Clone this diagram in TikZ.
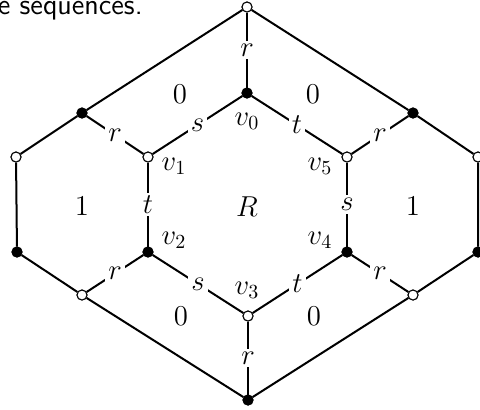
\documentclass[tikz,border=0pt]{standalone}
\begin{document}
\begin{tikzpicture}[x=0.5pt,y=-0.5pt,
  every node/.style={font=\Large},
  wv/.style={circle,draw,fill=white,minimum size=5pt,inner sep=0pt,line width=0.5pt},
  bv/.style={circle,draw,fill=black,minimum size=5pt,inner sep=0pt,line width=0.5pt},
  edg/.style={line width=1pt},
  lbl/.style={fill=white,inner sep=1.5pt}]
\useasboundingbox (0,0) rectangle (480,409);
% caption fragment
\node[anchor=base east,font=\Large\sffamily,inner sep=0pt] (cap) at (143,14) {e sequences.};
% vertices
\node[wv] (T)  at (247,7) {};
\node[bv] (B)  at (248,400) {};
\node[bv] (UL) at (82,113) {};
\node[wv] (L1) at (16,157) {};
\node[bv] (L2) at (17,252) {};
\node[wv] (LL) at (82,295) {};
\node[bv] (UR) at (413,113) {};
\node[wv] (R1) at (478,157) {};
\node[bv] (R2) at (478,252) {};
\node[wv] (LR) at (413,295) {};
\node[bv] (v0) at (247,93) {};
\node[wv] (v1) at (148,157) {};
\node[bv] (v2) at (148,252) {};
\node[wv] (v3) at (248,316) {};
\node[bv] (v4) at (347,252) {};
\node[wv] (v5) at (347,157) {};
% outer boundary
\draw[edg] (T) -- (UL) -- (L1) -- (L2) -- (LL) -- (B) -- (LR) -- (R2) -- (R1) -- (UR) -- (T);
% spokes
\draw[edg] (T) -- node[lbl] (rT) {$r$} (v0);
\draw[edg] (UL) -- node[lbl] (rUL) {$r$} (v1);
\draw[edg] (LL) -- node[lbl] (rLL) {$r$} (v2);
\draw[edg] (B) -- node[lbl] (rB) {$r$} (v3);
\draw[edg] (LR) -- node[lbl] (rLR) {$r$} (v4);
\draw[edg] (UR) -- node[lbl] (rUR) {$r$} (v5);
% inner hexagon
\draw[edg] (v0) -- node[lbl] (s01) {$s$} (v1);
\draw[edg] (v1) -- node[lbl] (t12) {$t$} (v2);
\draw[edg] (v2) -- node[lbl] (s23) {$s$} (v3);
\draw[edg] (v3) -- node[lbl] (t34) {$t$} (v4);
\draw[edg] (v4) -- node[lbl] (s45) {$s$} (v5);
\draw[edg] (v5) -- node[lbl] (t50) {$t$} (v0);
% vertex labels
\node (lv0) at (247,121) {$v_0$};
\node (lv1) at (174,166) {$v_1$};
\node (lv2) at (174,240) {$v_2$};
\node (lv3) at (247,290) {$v_3$};
\node (lv4) at (320,240) {$v_4$};
\node (lv5) at (320,166) {$v_5$};
% face labels
\node (fR) at (247,207) {$R$};
\node (f0a) at (180,94) {$0$};
\node (f0b) at (313,94) {$0$};
\node (f0c) at (181,316) {$0$};
\node (f0d) at (314,316) {$0$};
\node (f1a) at (82,206) {$1$};
\node (f1b) at (413,206) {$1$};
% vertex markers drawn last
\node[wv] at (T) {};
\node[bv] at (B) {};
\node[bv] at (UL) {};
\node[wv] at (L1) {};
\node[bv] at (L2) {};
\node[wv] at (LL) {};
\node[bv] at (UR) {};
\node[wv] at (R1) {};
\node[bv] at (R2) {};
\node[wv] at (LR) {};
\node[bv] at (v0) {};
\node[wv] at (v1) {};
\node[bv] at (v2) {};
\node[wv] at (v3) {};
\node[bv] at (v4) {};
\node[wv] at (v5) {};
\end{tikzpicture}
\end{document}
